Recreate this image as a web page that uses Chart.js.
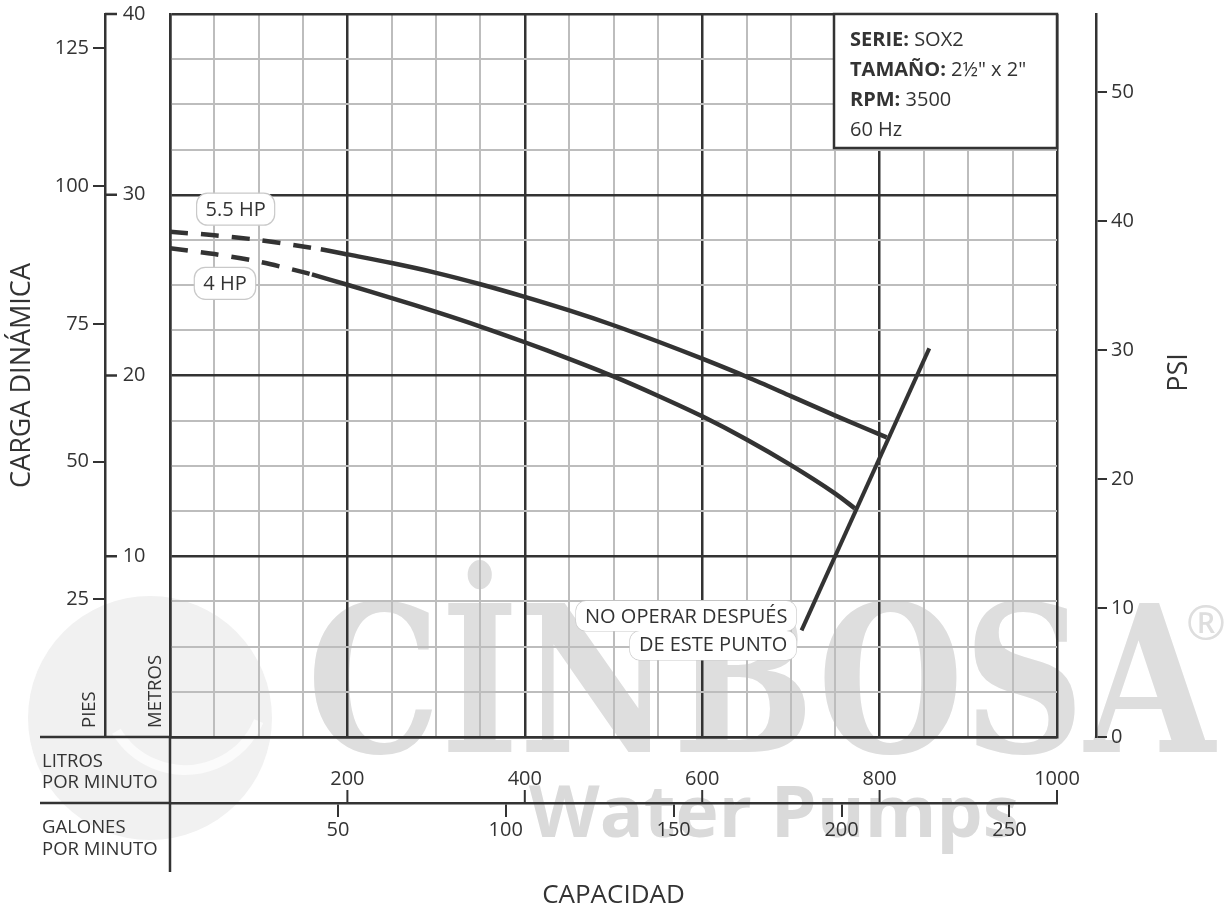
<!DOCTYPE html>
<html>
<head>
<meta charset="utf-8">
<title>SOX2 - Curva de rendimiento</title>
<script src="https://cdn.jsdelivr.net/npm/chart.js@4.4.1/dist/chart.umd.min.js"></script>
<style>
  html, body { margin: 0; padding: 0; background: #fff; }
  #wrap { width: 1226px; height: 910px; }
</style>
</head>
<body>
<div id="wrap"><canvas id="curva" width="1226" height="910"></canvas></div>
<script>
// caudal en litros por minuto, carga en metros
const flow55 = [0, 50, 100, 150, 170, 200, 250, 300, 350, 400, 450, 500, 550, 600, 650, 700, 750, 808];
const head55 = [27.95, 27.76, 27.50, 27.14, 26.98, 26.70, 26.22, 25.68, 25.05, 24.35, 23.60, 22.78, 21.88, 20.93, 19.93, 18.86, 17.78, 16.58];
const flow4 = [0, 50, 100, 150, 160, 200, 250, 300, 350, 400, 450, 500, 550, 600, 650, 700, 750, 772];
const head4 = [27.04, 26.72, 26.30, 25.72, 25.59, 25.02, 24.28, 23.52, 22.71, 21.84, 20.92, 19.95, 18.88, 17.74, 16.46, 15.04, 13.47, 12.65];
const limitFlow = [712, 856];
const limitHead = [5.9, 21.5];

// tramo punteado (arranque) de cada curva
const dashedUpTo55 = 170;
const dashedUpTo4 = 160;

const litrosTicks = [200, 400, 600, 800, 1000];
const galonesTicks = [50, 100, 150, 200, 250];
const metrosTicks = [10, 20, 30, 40];
const piesTicks = [25, 50, 75, 100, 125];
const psiTicks = [0, 10, 20, 30, 40, 50];

const metrosMax = 40;
const litrosMax = 1000;
const piesMax = metrosMax * 3.2808;
const galonesMax = litrosMax / 3.78541;
const psiMax = 56.05; // as drawn on the original sheet

const info = [['SERIE:', ' SOX2'], ['TAMAÑO:', ' 2½" x 2"'], ['RPM:', ' 3500'], ['', '60 Hz']];

const FONT = "'Open Sans', sans-serif";
const INK = '#333333';
const MINOR = '#bdbdbd';

Chart.defaults.font.family = FONT;
Chart.defaults.color = INK;

const toPoints = (xs, ys) => xs.map((x, i) => ({ x, y: ys[i] }));

function roundRect(ctx, x, y, w, h, r) {
  ctx.beginPath();
  ctx.moveTo(x + r, y);
  ctx.arcTo(x + w, y, x + w, y + h, r);
  ctx.arcTo(x + w, y + h, x, y + h, r);
  ctx.arcTo(x, y + h, x, y, r);
  ctx.arcTo(x, y, x + w, y, r);
  ctx.closePath();
}

function hline(ctx, x1, x2, y) {
  ctx.beginPath(); ctx.moveTo(x1, y); ctx.lineTo(x2, y); ctx.stroke();
}
function vline(ctx, x, y1, y2) {
  ctx.beginPath(); ctx.moveTo(x, y1); ctx.lineTo(x, y2); ctx.stroke();
}

// keep the label overflow of the side axes from pushing the plot down
const noSidePad = s => { s.paddingTop = 0; s.paddingBottom = 0; };

const sheetPlugin = {
  id: 'sheet',
  beforeDraw(chart) {
    const { ctx } = chart;
    ctx.save();
    ctx.fillStyle = '#fff';
    ctx.fillRect(0, 0, chart.width, chart.height);

    // gota del logo, muy tenue
    ctx.fillStyle = '#f1f1f1';
    ctx.beginPath(); ctx.arc(150, 718, 122, 0, Math.PI * 2); ctx.fill();
    ctx.strokeStyle = '#fbfbfb'; ctx.lineWidth = 10;
    ctx.beginPath(); ctx.arc(185, 690, 80, 0.4, 2.6); ctx.stroke();

    // marca de agua
    ctx.fillStyle = '#dedede';
    ctx.textBaseline = 'alphabetic';
    ctx.font = "bold 204px 'DejaVu Serif'";
    const word = 'CİNBOSA';
    const ww = ctx.measureText(word).width;
    ctx.save(); ctx.translate(307, 752); ctx.scale(908 / ww, 1); ctx.fillText(word, 0, 0); ctx.restore();
    ctx.font = '48px ' + FONT;
    ctx.fillText('®', 1186, 640);
    ctx.fillStyle = '#dadada';
    ctx.font = 'bold 72px ' + FONT;
    const sub = 'Water Pumps';
    const sw = ctx.measureText(sub).width;
    ctx.save(); ctx.translate(529, 837); ctx.scale(490 / sw, 1); ctx.fillText(sub, 0, 0); ctx.restore();
    ctx.restore();
  },
  afterDatasetsDraw(chart) {
    const { ctx } = chart;
    const xs = chart.scales.x, ys = chart.scales.y;
    ctx.save();
    ctx.font = '20px ' + FONT;
    ctx.textBaseline = 'middle';

    // etiquetas de potencia
    [['5.5 HP', 74, 29.2], ['4 HP', 62, 25.1]].forEach(([txt, l, m]) => {
      const cx = xs.getPixelForValue(l), cy = ys.getPixelForValue(m);
      const w = ctx.measureText(txt).width + 18, h = 32;
      roundRect(ctx, cx - w / 2, cy - h / 2, w, h, 11);
      ctx.fillStyle = '#fff'; ctx.fill();
      ctx.strokeStyle = '#c9c9c9'; ctx.lineWidth = 1.2; ctx.stroke();
      ctx.fillStyle = INK; ctx.textAlign = 'center';
      ctx.fillText(txt, cx, cy + 1);
    });

    // aviso de limite
    const rx = xs.getPixelForValue(696);
    const l1 = 'NO OPERAR DESPUÉS', l2 = 'DE ESTE PUNTO';
    const y1 = ys.getPixelForValue(6.64), y2 = ys.getPixelForValue(5.09);
    const w1 = ctx.measureText(l1).width + 18, w2 = ctx.measureText(l2).width + 18;
    const boxes = [[rx + 9 - w1, y1 - 16, w1, 30], [rx + 9 - w2, y2 - 14, w2, 29]];
    ctx.strokeStyle = '#c9c9c9'; ctx.lineWidth = 1.2;
    boxes.forEach(b => { roundRect(ctx, b[0], b[1], b[2], b[3], 10); ctx.stroke(); });
    ctx.fillStyle = '#fff';
    boxes.forEach(b => { roundRect(ctx, b[0], b[1], b[2], b[3], 10); ctx.fill(); });
    ctx.fillStyle = INK; ctx.textAlign = 'right';
    ctx.fillText(l1, rx, y1);
    ctx.fillText(l2, rx, y2);
    ctx.restore();
  },
  afterDraw(chart) {
    const { ctx, chartArea: a } = chart;
    const xs = chart.scales.x, x2 = chart.scales.x2, ys = chart.scales.y, pies = chart.scales.y2;
    ctx.save();
    ctx.strokeStyle = INK;
    ctx.lineWidth = 2.5;

    // lineas de la tabla inferior
    hline(ctx, 40, a.left, xs.top);
    hline(ctx, 40, a.left, x2.top);
    vline(ctx, a.left, a.bottom, x2.top + 69);

    // marcas del eje de metros, junto a la linea de pies
    metrosTicks.forEach(v => {
      const py = ys.getPixelForValue(v);
      hline(ctx, pies.right, pies.right + 12, py);
    });
    // marcas de litros (hacia arriba desde la division)
    ctx.lineWidth = 2;
    litrosTicks.forEach(v => {
      const px = xs.getPixelForValue(v);
      vline(ctx, px, x2.top - 13, x2.top);
    });

    // recuadro de datos
    const bw = 223, bh = 134;
    ctx.fillStyle = '#fff';
    ctx.fillRect(a.right - bw, a.top, bw, bh);
    ctx.lineWidth = 2.5;
    ctx.strokeRect(a.right - bw, a.top, bw, bh);
    ctx.fillStyle = INK;
    ctx.textAlign = 'left';
    ctx.textBaseline = 'alphabetic';
    info.forEach(([b, r], i) => {
      const tx = a.right - bw + 16, ty = a.top + 32 + i * 30;
      ctx.font = 'bold 20px ' + FONT;
      ctx.fillText(b, tx, ty);
      const bwid = b ? ctx.measureText(b).width : 0;
      ctx.font = '20px ' + FONT;
      ctx.fillText(r, tx + bwid, ty);
    });

    // rotulos de la tabla
    ctx.font = '18.5px ' + FONT;
    ctx.fillText('LITROS', 42, xs.top + 30);
    ctx.fillText('POR MINUTO', 42, xs.top + 51);
    ctx.fillText('GALONES', 42, x2.top + 30);
    ctx.fillText('POR MINUTO', 42, x2.top + 52);

    ctx.textBaseline = 'middle';
    ctx.save(); ctx.translate(90, a.bottom - 9); ctx.rotate(-Math.PI / 2);
    ctx.fillText('PIES', 0, 0); ctx.restore();
    ctx.save(); ctx.translate(156, a.bottom - 9); ctx.rotate(-Math.PI / 2);
    ctx.fillText('METROS', 0, 0); ctx.restore();

    ctx.font = '27px ' + FONT;
    ctx.textAlign = 'center';
    ctx.save(); ctx.translate(1179, (a.top + a.bottom) / 2 - 3); ctx.rotate(-Math.PI / 2);
    ctx.fillText('PSI', 0, 0); ctx.restore();
    ctx.restore();
  }
};

const tickFont = { size: 20 };
const majorX = c => (c.tick.value % 200 === 0 ? INK : MINOR);
const majorXw = c => (c.tick.value % 200 === 0 ? 2.5 : 2);
const majorY = c => (c.tick.value % 10 === 0 ? INK : MINOR);
const majorYw = c => (c.tick.value % 10 === 0 ? 2.5 : 2);

new Chart(document.getElementById('curva'), {
  type: 'line',
  data: {
    datasets: [
      {
        label: '5.5 HP',
        data: toPoints(flow55, head55),
        borderColor: INK,
        borderWidth: 4.5,
        pointRadius: 0,
        tension: 0.3,
        segment: { borderDash: c => (c.p1.parsed.x <= dashedUpTo55 ? [18, 13] : undefined) }
      },
      {
        label: '4 HP',
        data: toPoints(flow4, head4),
        borderColor: INK,
        borderWidth: 4.5,
        pointRadius: 0,
        tension: 0.3,
        segment: { borderDash: c => (c.p1.parsed.x <= dashedUpTo4 ? [18, 13] : undefined) }
      },
      {
        label: 'Limite',
        data: toPoints(limitFlow, limitHead),
        borderColor: INK,
        borderWidth: 4,
        pointRadius: 0
      }
    ]
  },
  options: {
    responsive: false,
    animation: false,
    devicePixelRatio: 1,
    layout: { padding: { top: 14, left: 0, right: 0, bottom: 0 } },
    plugins: { legend: { display: false }, tooltip: { enabled: false } },
    scales: {
      x: {
        type: 'linear', position: 'bottom', weight: 0,
        min: 0, max: litrosMax,
        ticks: {
          stepSize: 50, autoSkip: false, maxRotation: 0, padding: 30, font: tickFont, color: INK,
          callback: v => (litrosTicks.includes(v) ? String(v) : '')
        },
        grid: { color: majorX, lineWidth: majorXw, drawTicks: false },
        border: { color: INK, width: 2.5 },
        afterFit: s => { s.height = 66; }
      },
      x2: {
        type: 'linear', position: 'bottom', weight: 1,
        min: 0, max: galonesMax,
        afterBuildTicks: s => { s.ticks = galonesTicks.map(v => ({ value: v })); },
        ticks: { autoSkip: false, maxRotation: 0, padding: 1, font: tickFont, color: INK },
        grid: { drawOnChartArea: false, drawTicks: true, tickLength: 14, color: INK, lineWidth: 2 },
        border: { color: INK, width: 2.5 },
        title: { display: true, text: 'CAPACIDAD', font: { size: 26, lineHeight: 1.1 }, padding: { top: 0, bottom: 0 }, color: INK },
        afterFit: s => { s.height = 107; }
      },
      y: {
        type: 'linear', position: 'left', weight: 0,
        min: 0, max: metrosMax,
        ticks: {
          stepSize: 2.5, autoSkip: false, crossAlign: 'center', padding: 24.5, font: tickFont, color: INK,
          callback: v => (metrosTicks.includes(v) ? String(v) : '')
        },
        grid: { color: majorY, lineWidth: majorYw, drawTicks: false },
        border: { color: INK, width: 2.5 },
        afterFit: s => { s.width = 65; noSidePad(s); }
      },
      y2: {
        type: 'linear', position: 'left', weight: 1,
        min: 0, max: piesMax,
        afterBuildTicks: s => { s.ticks = piesTicks.map(v => ({ value: v })); },
        ticks: { autoSkip: false, padding: 4, font: tickFont, color: INK },
        grid: { drawOnChartArea: false, drawTicks: true, tickLength: 12, color: INK, lineWidth: 2 },
        border: { color: INK, width: 2.5 },
        title: { display: true, text: 'CARGA DINÁMICA', font: { size: 27 }, padding: { top: 6, bottom: 0 }, color: INK },
        afterFit: s => { s.width = 105; noSidePad(s); }
      },
      gap: {
        type: 'linear', position: 'right', weight: 0,
        min: 0, max: 1,
        ticks: { display: false },
        grid: { display: false },
        border: { display: false },
        afterFit: s => { s.width = 39; noSidePad(s); }
      },
      psi: {
        type: 'linear', position: 'right', weight: 1,
        min: 0, max: psiMax,
        afterBuildTicks: s => { s.ticks = psiTicks.map(v => ({ value: v })); },
        ticks: { autoSkip: false, padding: 4, font: tickFont, color: INK },
        grid: { drawOnChartArea: false, drawTicks: true, tickLength: 11, color: INK, lineWidth: 2 },
        border: { color: INK, width: 2.5 },
        afterFit: s => { s.width = 130; noSidePad(s); }
      }
    }
  },
  plugins: [sheetPlugin]
});
</script>
</body>
</html>
